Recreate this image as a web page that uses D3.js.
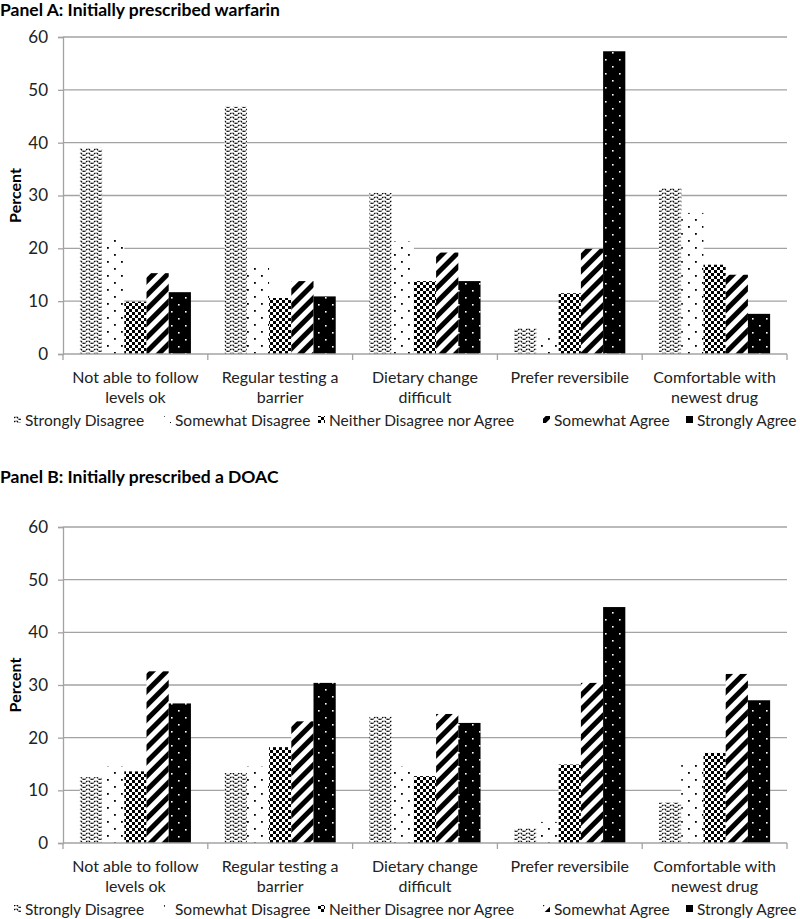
<!DOCTYPE html>
<html>
<head>
<meta charset="utf-8">
<script src="https://cdn.jsdelivr.net/npm/d3@7"></script>
<style>
  html, body { margin: 0; padding: 0; background: #fff; }
  svg { display: block; font-family: Lato, "Open Sans", sans-serif; }
</style>
</head>
<body>
<div id="chart"></div>
<script>
// ---------- data ----------
const categories = ["Not able to follow levels ok", "Regular testing a barrier", "Dietary change difficult", "Prefer reversibile", "Comfortable with newest drug"];
const categoryLines = [["Not able to follow", "levels ok"], ["Regular testing a", "barrier"], ["Dietary change", "difficult"], ["Prefer reversibile"], ["Comfortable with", "newest drug"]];
const seriesNames = ["Strongly Disagree", "Somewhat Disagree", "Neither Disagree nor Agree", "Somewhat Agree", "Strongly Agree"];
const yTicks = [0, 10, 20, 30, 40, 50, 60];

// Panel A: Initially prescribed warfarin
const warfarinStronglyDisagree = [39.0, 46.8, 30.5, 4.9, 31.4];
const warfarinSomewhatDisagree = [22.5, 17.2, 21.3, 3.0, 26.7];
const warfarinNeither = [9.9, 10.6, 13.8, 11.5, 16.9];
const warfarinSomewhatAgree = [15.3, 13.8, 19.2, 19.9, 15.0];
const warfarinStronglyAgree = [11.7, 10.9, 13.8, 57.3, 7.6];

// Panel B: Initially prescribed a DOAC
const doacStronglyDisagree = [12.5, 13.3, 24.0, 2.8, 7.7];
const doacSomewhatDisagree = [14.5, 14.5, 14.5, 4.0, 15.7];
const doacNeither = [13.6, 18.2, 12.7, 14.9, 17.1];
const doacSomewhatAgree = [32.6, 23.1, 24.5, 30.4, 32.1];
const doacStronglyAgree = [26.5, 30.4, 22.8, 44.8, 27.1];

const panels = [
  { title: "Panel A: Initially prescribed warfarin",
    series: [warfarinStronglyDisagree, warfarinSomewhatDisagree, warfarinNeither, warfarinSomewhatAgree, warfarinStronglyAgree] },
  { title: "Panel B: Initially prescribed a DOAC",
    series: [doacStronglyDisagree, doacSomewhatDisagree, doacNeither, doacSomewhatAgree, doacStronglyAgree] }
];

// ---------- layout ----------
const W = 800, H = 919;
const layout = [
  { titleY: 16, top: 37, bottom: 354 },
  { titleY: 483, top: 527, bottom: 843 }
];
const plotLeft = 63, plotRight = 787;
const legendTextX = [25, 175, 329, 554, 697];

const svg = d3.select("#chart").append("svg").attr("width", W).attr("height", H);
const defs = svg.append("defs");

// Patterns
const patIds = ["pSD", "pSWD", "pN", "pSA", "pStA"];
{
  // Strongly disagree: dotted zigzag (weave)
  const p = defs.append("pattern").attr("id", "pSD").attr("patternUnits", "userSpaceOnUse")
    .attr("width", 8).attr("height", 4);
  p.append("rect").attr("width", 8).attr("height", 4).attr("fill", "#fff");
  p.append("path").attr("d", "M-1,-0.5 L4,4 L9,-0.5").attr("fill", "none")
    .attr("stroke", "#000").attr("stroke-width", 1.3).attr("stroke-dasharray", "1.6,0.8");
}
{
  // Somewhat disagree: sparse dots
  const p = defs.append("pattern").attr("id", "pSWD").attr("patternUnits", "userSpaceOnUse")
    .attr("width", 14).attr("height", 14);
  p.append("rect").attr("width", 14).attr("height", 14).attr("fill", "#fff");
  p.append("rect").attr("x", 2).attr("y", 2).attr("width", 1.8).attr("height", 1.8).attr("fill", "#000");
  p.append("rect").attr("x", 9).attr("y", 9).attr("width", 1.8).attr("height", 1.8).attr("fill", "#000");
}
{
  // Neither: checkerboard
  const p = defs.append("pattern").attr("id", "pN").attr("patternUnits", "userSpaceOnUse")
    .attr("width", 6).attr("height", 6);
  p.append("rect").attr("width", 6).attr("height", 6).attr("fill", "#fff");
  p.append("rect").attr("x", 0).attr("y", 0).attr("width", 3).attr("height", 3).attr("fill", "#000");
  p.append("rect").attr("x", 3).attr("y", 3).attr("width", 3).attr("height", 3).attr("fill", "#000");
}
{
  // Somewhat agree: wide upward diagonal stripes
  const p = defs.append("pattern").attr("id", "pSA").attr("patternUnits", "userSpaceOnUse")
    .attr("width", 10).attr("height", 10).attr("patternTransform", "rotate(45)");
  p.append("rect").attr("width", 10).attr("height", 10).attr("fill", "#fff");
  p.append("rect").attr("x", 0).attr("y", 0).attr("width", 5).attr("height", 10).attr("fill", "#000");
}
{
  // Strongly agree: black with white dots
  const p = defs.append("pattern").attr("id", "pStA").attr("patternUnits", "userSpaceOnUse")
    .attr("width", 14).attr("height", 14);
  p.append("rect").attr("width", 14).attr("height", 14).attr("fill", "#000");
  p.append("rect").attr("x", 3).attr("y", 3).attr("width", 1.6).attr("height", 1.6).attr("fill", "#fff");
  p.append("rect").attr("x", 10).attr("y", 10).attr("width", 1.6).attr("height", 1.6).attr("fill", "#fff");
}

const x0 = d3.scaleBand().domain(categories).range([plotLeft, plotRight]).paddingInner(0).paddingOuter(0);
const x1 = d3.scaleBand().domain(seriesNames).range([0, x0.bandwidth()]).paddingInner(0).paddingOuter(0.76);

panels.forEach((panel, pi) => {
  const L = layout[pi];
  const g = svg.append("g");
  const y = d3.scaleLinear().domain([0, 60]).range([L.bottom, L.top]);

  // title
  g.append("text").attr("x", 0).attr("y", L.titleY).attr("font-weight", "bold")
    .attr("font-size", 17.5).attr("fill", "#000").text(panel.title);

  // gridlines
  g.append("g").selectAll("line").data(yTicks.filter(t => t > 0)).join("line")
    .attr("x1", plotLeft).attr("x2", plotRight)
    .attr("y1", d => y(d)).attr("y2", d => y(d))
    .attr("stroke", "#a3a3a3").attr("stroke-width", 1.3);

  // y axis
  const yAxis = g.append("g").attr("transform", `translate(${plotLeft},0)`)
    .call(d3.axisLeft(y).tickValues(yTicks).tickSize(5).tickPadding(10));
  yAxis.select(".domain").attr("stroke", "#a3a3a3").attr("stroke-width", 1.3);
  yAxis.selectAll(".tick line").attr("stroke", "#a3a3a3").attr("stroke-width", 1.3);
  yAxis.selectAll(".tick text").attr("font-size", 17).attr("fill", "#222").attr("font-family", "Lato, sans-serif");

  // y label
  g.append("text").attr("transform", `translate(21,${(L.top + L.bottom) / 2}) rotate(-90)`)
    .attr("text-anchor", "middle").attr("font-weight", "bold").attr("font-size", 16)
    .attr("fill", "#000").text("Percent");

  // bars
  seriesNames.forEach((s, si) => {
    g.append("g").selectAll("rect").data(panel.series[si]).join("rect")
      .attr("x", (d, i) => x0(categories[i]) + x1(s))
      .attr("width", x1.bandwidth())
      .attr("y", d => y(d))
      .attr("height", d => y(0) - y(d))
      .attr("fill", `url(#${patIds[si]})`);
  });

  // x axis
  const xAxis = g.append("g").attr("transform", `translate(0,${L.bottom})`);
  xAxis.append("line").attr("x1", plotLeft).attr("x2", plotRight).attr("y1", 0).attr("y2", 0)
    .attr("stroke", "#a3a3a3").attr("stroke-width", 1.3);
  const bounds = categories.map(c => x0(c)).concat([plotRight]);
  xAxis.selectAll("line.tk").data(bounds).join("line").attr("class", "tk")
    .attr("x1", d => d).attr("x2", d => d).attr("y1", 0).attr("y2", 6)
    .attr("stroke", "#a3a3a3").attr("stroke-width", 1.3);

  // category labels
  categories.forEach((c, i) => {
    const t = g.append("text").attr("text-anchor", "middle")
      .attr("x", x0(c) + x0.bandwidth() / 2).attr("font-size", 16).attr("fill", "#222");
    categoryLines[i].forEach((ln, li) => {
      t.append("tspan").attr("x", x0(c) + x0.bandwidth() / 2)
        .attr("y", L.bottom + 29 + li * 20).text(ln);
    });
  });

  // legend
  const ly = L.bottom + 72;
  seriesNames.forEach((s, si) => {
    g.append("rect").attr("x", legendTextX[si] - 11).attr("y", ly - 10).attr("width", 7).attr("height", 7)
      .attr("fill", `url(#${patIds[si]})`);
    g.append("text").attr("x", legendTextX[si]).attr("y", ly).attr("font-size", 15.5).attr("fill", "#222").text(s);
  });
});
</script>
</body>
</html>
